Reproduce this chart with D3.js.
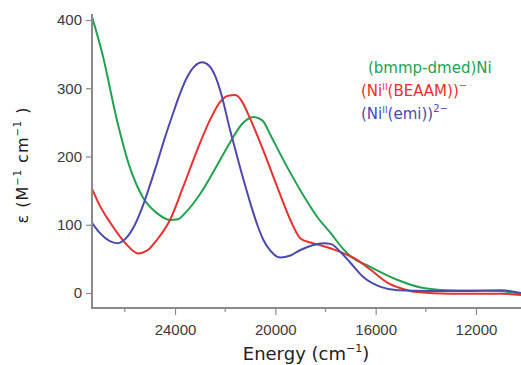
<!DOCTYPE html>
<html>
<head>
<meta charset="utf-8">
<script src="https://cdn.jsdelivr.net/npm/d3@7"></script>
<style>
  body { margin: 0; background: #fff; }
  svg { display: block; font-family: "DejaVu Sans", sans-serif; }
</style>
</head>
<body>
<svg id="chart"></svg>
<script>
// energies in cm^-1, epsilon in M^-1 cm^-1
const blueE = [27310, 27000, 26600, 26280, 25960, 25600, 25280, 25000, 24720, 24400, 24080, 23800, 23520, 23200, 22920, 22640, 22400, 22200, 21800, 21400, 21000, 20720, 20480, 20200, 19800, 19400, 19000, 18520, 18080, 17800, 17400, 17000, 16480, 15800, 15120, 13800, 12200, 11000, 10200];
const blueV = [103, 88, 76, 73, 80, 100, 128, 158, 190, 228, 263, 292, 316, 333, 338, 333, 318, 297, 238, 183, 132, 100, 78, 62, 52, 55, 63, 70, 73, 72, 60, 44, 23, 9, 4, 3, 3, 4, 0];

const redE = [27310, 27000, 26600, 26200, 25880, 25480, 25120, 24720, 24200, 23680, 23120, 22600, 22200, 21880, 21600, 21320, 21120, 20800, 20480, 19920, 19400, 19000, 18600, 18200, 17680, 17200, 16800, 16200, 15520, 15000, 14480, 13000, 11000, 10200];
const redV = [153, 128, 104, 83, 69, 58, 62, 78, 107, 155, 209, 254, 280, 289, 290, 280, 265, 238, 209, 155, 107, 80, 74, 70, 64, 57, 50, 34, 15, 7, 2, -1, -1, -3];

const greenE = [27310, 26880, 26320, 25800, 25280, 24720, 24200, 23880, 23600, 23000, 22400, 21800, 21320, 20880, 20520, 20200, 19880, 19400, 18880, 18320, 17800, 17280, 17000, 16200, 15120, 14200, 13120, 11120, 10600, 10200];
const greenV = [405, 348, 254, 184, 140, 117, 107, 108, 117, 145, 182, 221, 248, 258, 253, 232, 209, 176, 143, 111, 88, 64, 54, 38, 19, 8, 4, 3, 1, -2];

const colors = ["#22a150", "#e8302f", "#4c4aab"];

const yTicks = [0, 100, 200, 300, 400];
const xMajor = [24000, 20000, 16000, 12000];
const xMinor = [26000, 22000, 18000, 14000, 10000];

const W = 521, H = 365;
const margin = { top: 14, right: 0, bottom: 57, left: 92 };
const axisY = H - margin.bottom;

const svg = d3.select("#chart").attr("width", W).attr("height", H);

// scales
const xscale = d3.scaleLinear().domain([27310, 10205]).range([margin.left, W]);
const yscale = d3.scaleLinear().domain([0, 400]).range([293, 20]);

svg.append("clipPath").attr("id", "clip")
  .append("rect").attr("x", margin.left).attr("y", 0).attr("width", W - margin.left).attr("height", axisY);

const line = d3.line()
  .x((d) => xscale(d[0]))
  .y((d) => yscale(d[1]))
  .curve(d3.curveMonotoneX);

const series = [
  { E: greenE, V: greenV, color: colors[0] },
  { E: redE, V: redV, color: colors[1] },
  { E: blueE, V: blueV, color: colors[2] },
];

const plot = svg.append("g").attr("clip-path", "url(#clip)");
series.forEach((s) => {
  plot.append("path")
    .datum(s.E.map((e, i) => [e, s.V[i]]))
    .attr("fill", "none")
    .attr("stroke", s.color)
    .attr("stroke-width", 2)
    .attr("d", line);
});

// y axis
const yaxis = d3.axisLeft(yscale).tickValues(yTicks).tickSize(6).tickPadding(4);
const g_y = svg.append("g").attr("transform", `translate(${margin.left},0)`).call(yaxis);
g_y.select(".domain").remove();
g_y.append("line")
  .attr("x1", 0).attr("x2", 0).attr("y1", margin.top).attr("y2", axisY)
  .attr("stroke", "#8a8a8a").attr("stroke-width", 2);

// x axis
const xaxis = d3.axisBottom(xscale).tickValues(xMajor).tickSize(7).tickPadding(9)
  .tickFormat(d3.format("d"));
const g_x = svg.append("g").attr("transform", `translate(0,${axisY})`).call(xaxis);
g_x.select(".domain").remove();
g_x.append("line")
  .attr("x1", margin.left - 1).attr("x2", W).attr("y1", 0).attr("y2", 0)
  .attr("stroke", "#8a8a8a").attr("stroke-width", 2);
g_x.selectAll(".minor")
  .data(xMinor)
  .join("line")
  .attr("class", "minor")
  .attr("x1", (d) => xscale(d)).attr("x2", (d) => xscale(d))
  .attr("y1", 0).attr("y2", 4)
  .attr("stroke", "#8a8a8a").attr("stroke-width", 1.2);

svg.selectAll(".tick line").attr("stroke", "#8a8a8a").attr("stroke-width", 1.2);
svg.selectAll(".tick text").attr("fill", "#3a3a3a").style("font-size", "15px");

// axis titles
const xt = svg.append("text")
  .attr("x", 306).attr("y", 360)
  .attr("text-anchor", "middle")
  .attr("fill", "#222").style("font-size", "18px");
xt.append("tspan").text("Energy (cm");
xt.append("tspan").attr("dy", -8).style("font-size", "11px").text("−1");
xt.append("tspan").attr("dy", 8).text(")");

const yt = svg.append("text")
  .attr("transform", "translate(28,165) rotate(-90)")
  .attr("text-anchor", "middle")
  .attr("fill", "#222").style("font-size", "16px").style("letter-spacing", "1px");
yt.append("tspan").text("ε (M");
yt.append("tspan").attr("dy", -7).style("font-size", "10px").text("−1");
yt.append("tspan").attr("dy", 7).text(" cm");
yt.append("tspan").attr("dy", -7).style("font-size", "10px").text("−1");
yt.append("tspan").attr("dy", 7).text(" )");

// legend
const legend = svg.append("g").style("font-size", "15px");
const lg = legend.append("text").attr("x", 368).attr("y", 73).attr("fill", colors[0]);
lg.append("tspan").text("(bmmp-dmed)Ni");

const lr = legend.append("text").attr("x", 361).attr("y", 96).attr("fill", colors[1]);
lr.append("tspan").text("(Ni");
lr.append("tspan").attr("dy", -6).style("font-size", "9px").text("II");
lr.append("tspan").attr("dy", 6).text("(BEAAM))");
lr.append("tspan").attr("dy", -7).style("font-size", "10px").text("−");

const lb = legend.append("text").attr("x", 361).attr("y", 119).attr("fill", colors[2]);
lb.append("tspan").text("(Ni");
lb.append("tspan").attr("dy", -6).style("font-size", "9px").text("II");
lb.append("tspan").attr("dy", 6).text("(emi))");
lb.append("tspan").attr("dy", -7).style("font-size", "10px").text("2−");
</script>
</body>
</html>
